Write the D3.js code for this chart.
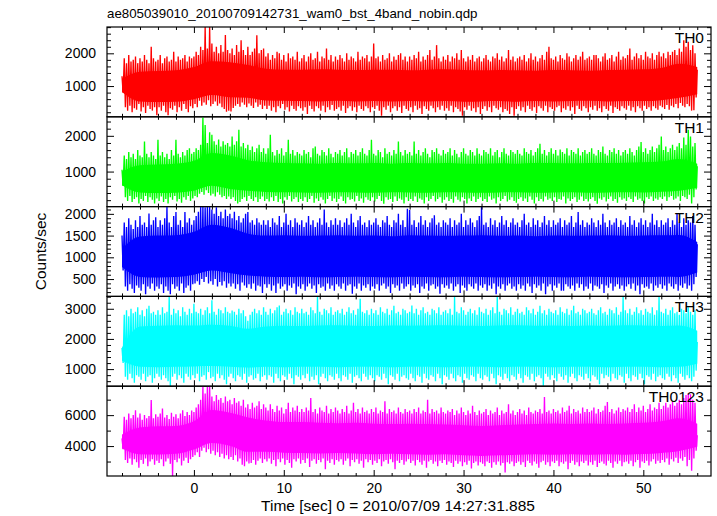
<!DOCTYPE html>
<html><head><meta charset="utf-8">
<script src="https://cdn.jsdelivr.net/npm/d3@7"></script>
<style>
body{margin:0;background:#fff}
text{font-family:"Liberation Sans",Arial,Helvetica,sans-serif;fill:#000}
</style>
</head><body>
<svg id="c" width="717" height="516"></svg>
<script>
// ---------- text ----------
const title = "ae805039010_20100709142731_wam0_bst_4band_nobin.qdp";
const xLabel = "Time [sec] 0 = 2010/07/09 14:27:31.885";
const yLabel = "Counts/sec";
const panelNames = ["TH0", "TH1", "TH2", "TH3", "TH0123"];
const panelColors = ["#ff0000", "#00ff00", "#0000ff", "#00ffff", "#ff00ff"];

// ---------- axes ----------
const xDomain = [-9.67, 57.53];
const xMajorTicks = [0, 10, 20, 30, 40, 50];
const xMinorTicks = [-8,-6,-4,-2,2,4,6,8,12,14,16,18,22,24,26,28,32,34,36,38,42,44,46,48,52,54,56];
const yDomains = [[61, 2804], [20, 2532], [101, 2167], [433, 3410], [2065, 7871]];
const yMajorTicks = [[1000, 2000], [1000, 2000], [500, 1000, 1500, 2000], [1000, 2000, 3000], [4000, 6000]];
const yMinorStep = [200, 200, 100, 200, 1000];

// ---------- sampling grid (seconds) ----------
const hiStart = -8, loStart = -7.875, sampleStep = 0.25;  // upper / lower excursions, every 0.25 s
const coreStart = -8, coreStep = 2;                        // dense core band, every 2 s

// ---------- TH0 ----------
const th0Hi = [
 1300,1850,1700,1950,1750,1800,1900,1700,1850,1750,1950,1800,1700,2200,1850,1750,
 1800,1950,1700,1850,1900,1750,1800,2050,1750,1900,1800,1850,1950,1750,1900,1850,
 1900,2050,1950,2200,2100,2800,2150,2800,2300,2050,2200,2000,2250,2050,2560,2100,
 2000,2150,1950,2250,2050,2400,2100,1950,2200,1950,2050,2150,2550,2000,2100,2150,
 1900,2000,1800,1950,1850,2050,2000,1800,1950,1750,2000,1850,1900,1800,2050,1750,
 1850,1950,1750,1900,2000,1800,1850,2050,1750,1900,1850,2150,1800,1950,1750,1900,
 1800,1950,1850,1750,2000,1800,1900,1850,1750,2050,1800,1900,1850,1950,1750,1900,
 2300,1850,1900,1750,1950,1800,1850,2000,1750,1900,1800,1950,2000,1800,1900,1750,
 1900,1800,1950,1850,2050,1750,1900,1800,1950,2100,1800,1900,2250,1850,1750,1900,
 1800,1950,1750,1900,1850,2000,1800,2100,1850,1750,1900,1800,1950,1750,1850,1900,
 1750,1850,1950,1800,1750,1900,1850,2000,1800,1900,1750,1850,2100,1800,1900,1750,
 1850,1900,1800,1950,1750,1850,2000,1800,1900,1750,1850,1950,1800,2050,2200,1850,
 1800,1900,1750,1950,1850,1800,2000,1900,1750,1850,1950,1800,1900,2050,1800,1850,
 1900,1800,1950,1950,1850,1750,1900,2000,1800,1850,1950,1750,1900,2050,1800,1900,
 1850,1950,2150,1800,1900,2000,1850,1950,1800,2050,1900,1850,2000,1800,1950,2050,
 1900,2000,1850,2050,1950,2050,2100,1950,2150,2050,2400,2200,2350,2100,2250,2000,
 1500];
const th0Lo = [
 800,350,250,400,200,320,280,450,220,350,180,400,300,250,350,110,
 350,250,400,200,110,320,280,400,200,350,250,450,300,200,380,320,
 450,350,550,400,500,430,570,380,450,530,400,470,350,300,215,250,
 220,330,400,450,370,500,430,350,470,400,330,500,370,430,300,400,
 300,400,250,350,200,380,320,450,280,350,220,400,300,250,380,320,
 250,350,150,400,300,220,380,320,250,400,200,350,280,420,250,300,
 350,250,400,180,320,380,250,350,200,400,300,250,380,320,200,350,
 300,400,250,90,350,280,400,200,320,380,250,350,180,400,300,250,
 350,200,400,280,320,150,380,300,250,400,320,200,350,280,400,250,
 320,250,400,200,350,300,220,90,350,280,400,250,320,200,350,150,
 300,380,250,350,200,400,320,280,350,200,300,250,150,350,90,300,
 380,250,350,200,400,300,250,350,180,380,320,250,400,200,350,300,
 250,350,400,200,320,280,380,250,350,150,400,300,250,380,320,200,
 350,280,400,250,320,200,380,300,250,400,180,350,300,250,380,320,
 280,400,250,350,200,380,320,250,400,300,350,250,380,320,280,400,
 350,300,420,280,400,350,450,320,480,400,350,450,380,250,260,650];
const th0CoreHi = [1220,1440,1460,1480,1580,1760,1730,1640,1530,1500,1500,1510,1500,1490,1500,1500,1480,1500,1510,1490,1480,1490,1480,1470,1490,1480,1470,1490,1500,1510,1550,1680,1580];
const th0CoreLo = [820,530,510,520,600,730,660,640,560,550,540,530,550,530,540,530,540,530,540,520,530,540,520,540,530,540,550,530,540,540,570,640,750];

// ---------- TH1 ----------
const th1Hi = [
 1050,1450,1350,1550,1400,1500,1350,1600,1450,1400,1840,1500,1400,1550,1450,1350,
 1890,1450,1550,1400,1500,1350,1600,1450,1890,1500,1400,1550,1450,1600,1650,1500,
 1550,1650,1600,1750,2510,2300,1800,2100,2030,1850,1750,1900,1700,1850,1750,1800,
 1700,1980,1750,1850,2170,1700,1800,1650,1750,1600,1700,1550,1650,1750,1550,1650,
 1500,1650,2030,1550,1450,1600,1500,1650,1450,1550,1890,1500,1600,1450,1550,1500,
 1450,1600,1500,1550,1400,1650,1700,1500,1450,1600,1550,1450,1650,1500,1400,1550,
 1500,1600,1450,1550,1650,1400,1550,1500,1600,1450,1550,1650,1500,1450,1600,1890,
 1500,1450,1600,1550,1400,1650,1500,1550,1450,1600,1500,1840,1550,1450,1600,1500,
 1550,1450,1840,1500,1600,1450,1550,1650,1500,1400,1600,1550,1650,1500,1450,1600,
 1500,1550,1650,1450,1600,1500,1400,1550,1650,1500,1450,1600,1550,1450,1650,1500,
 1450,1600,1550,1500,1650,1450,1550,1600,1400,1550,1650,1500,1450,1600,1550,1500,
 1600,1500,1450,1650,1550,1500,1600,1450,1550,1650,1780,1500,1600,1450,1550,1650,
 1500,1600,1450,1620,1550,1500,1650,1450,1600,1550,1500,1650,1450,1550,1600,1500,
 1550,1650,1500,1450,1600,1550,1700,1500,1450,1600,1550,1650,1500,1600,1450,1550,
 1600,1500,1650,1550,1450,1600,1700,1830,1550,1650,1500,1600,1700,1550,1650,1750,
 1980,1600,1700,1550,1650,1750,1600,1700,1800,1650,1950,1750,2170,1980,1700,1800,
 1150];
const th1Lo = [
 600,280,180,320,150,230,280,110,230,180,320,150,280,210,110,250,
 180,300,150,230,110,280,210,320,160,230,130,280,210,320,180,250,
 320,280,380,430,350,480,400,330,380,300,420,350,280,320,230,300,
 230,280,180,110,150,230,280,180,320,230,180,280,150,230,300,180,
 230,160,280,180,320,150,230,110,280,210,320,160,230,280,150,230,
 180,280,150,230,320,130,250,180,280,210,110,230,320,180,250,150,
 230,300,180,110,280,210,230,160,320,180,250,130,280,210,180,280,
 160,230,320,180,100,280,210,230,150,300,180,250,210,110,280,180,
 230,180,300,150,250,210,110,280,180,230,320,160,230,280,130,210,
 280,180,230,130,300,210,160,280,230,110,250,180,300,150,230,280,
 180,230,150,300,210,250,110,280,180,230,320,160,210,280,180,130,
 230,280,180,250,150,300,210,110,280,180,230,160,300,210,250,180,
 280,150,230,210,300,110,250,180,230,280,150,210,300,180,230,160,
 230,280,180,100,250,210,280,160,230,300,180,230,130,280,210,250,
 180,280,230,150,300,210,250,180,110,280,230,300,180,250,210,280,
 230,300,180,280,320,210,250,300,180,320,280,230,350,110,280,500];
const th1CoreHi = [1000,1180,1200,1220,1300,1520,1450,1320,1260,1240,1230,1220,1240,1230,1240,1220,1240,1230,1240,1220,1220,1230,1220,1240,1240,1230,1240,1240,1250,1260,1280,1350,1220];
const th1CoreLo = [620,415,400,410,465,600,510,460,430,420,415,405,420,415,405,420,415,405,420,415,405,415,420,405,415,420,405,415,420,415,435,465,550];

// ---------- TH2 ----------
const th2Hi = [
 1500,1800,1700,1900,1750,1650,1850,1700,1950,1750,1800,1700,2010,1750,1850,1920,
 1700,1850,1750,1900,2160,1800,1700,1950,2040,1750,1850,1700,2040,1800,1900,1750,
 1850,1950,2050,2170,2170,2150,2170,2170,2100,2000,2150,1950,2050,1900,2100,1950,
 2000,1900,2050,1850,1950,1800,1900,2000,2040,1800,1850,1750,1900,1800,1750,1850,
 1750,1850,1700,1900,1800,1750,1950,1700,1800,2000,1750,1850,1700,1900,1800,1750,
 1850,1700,1800,1950,1750,1850,1700,1800,1900,1750,2100,1800,1700,1850,1750,1900,
 1750,1850,1700,1800,1900,1750,2000,1800,1700,1850,1950,1750,1800,1700,1850,1750,
 1800,1900,1750,1700,1850,1800,1950,1750,1700,1850,1800,2000,1750,1850,1700,2120,
 2090,1750,1850,1700,1800,1950,1750,1850,1700,1800,1900,1970,1750,1800,1700,1850,
 1800,1750,1900,1700,1850,1750,1800,2000,1700,1850,1750,1900,1800,1700,1850,1950,
 2170,1750,1800,1700,1900,1750,1850,1700,1800,1950,1750,1850,1700,1800,1900,1750,
 1800,1700,1850,2000,1750,1800,1700,1900,1750,1850,1700,1800,1950,1750,1850,1700,
 1850,1750,1800,1900,1700,1850,1750,1800,1950,1700,1800,2040,1750,1850,1700,1800,
 1750,1900,1800,1700,1850,1750,2000,1800,1700,1850,1750,1800,1900,1700,1850,1750,
 1800,1700,1950,1750,1850,1700,1800,1900,1750,1850,1700,1800,2000,1750,1850,1700,
 1850,1750,1800,1900,1700,1850,1750,2000,1800,1700,1900,1750,1850,1800,1950,1750,
 1300];
const th2Lo = [
 700,330,230,380,280,180,350,300,230,380,150,330,280,400,230,330,
 280,380,180,330,230,150,380,280,330,230,400,180,300,350,230,380,
 400,450,370,500,430,550,400,450,370,500,330,430,350,450,300,400,
 330,400,280,380,230,420,350,300,380,280,400,230,350,330,180,380,
 300,380,230,350,180,400,280,330,380,230,350,300,400,150,330,280,
 380,230,330,400,280,350,180,380,300,330,230,400,280,350,230,380,
 330,280,400,230,350,380,160,330,280,400,230,350,300,380,230,330,
 280,380,230,350,400,280,330,180,380,300,350,230,400,280,330,380,
 230,350,300,380,180,330,280,400,230,350,380,280,330,160,380,300,
 350,280,400,230,330,380,180,350,300,230,380,330,280,400,230,350,
 300,380,230,350,280,400,150,330,280,380,230,350,400,280,330,230,
 380,280,350,230,400,330,180,380,300,350,230,400,150,330,380,230,
 350,300,400,230,230,380,330,280,350,230,400,300,380,230,330,280,
 400,230,350,330,280,380,180,350,300,400,230,330,380,280,350,230,
 330,380,280,400,230,350,150,380,300,330,280,400,230,350,300,380,
 280,350,230,400,330,280,380,230,350,300,400,280,350,230,380,550];
const th2CoreHi = [1200,1480,1500,1510,1590,1750,1680,1545,1500,1510,1495,1500,1510,1495,1500,1485,1510,1500,1495,1500,1510,1495,1500,1485,1500,1495,1500,1510,1495,1500,1505,1515,1350];
const th2CoreLo = [775,550,535,545,600,695,640,580,555,545,555,540,545,555,545,540,555,545,540,555,545,540,545,555,545,540,555,545,540,545,555,550,650];

// ---------- TH3 ----------
const th3Hi = [
 1700,2800,2950,2750,3000,2850,2900,3050,2800,2950,2750,3000,3100,2850,2900,2800,
 2950,2800,3050,2850,2900,3410,2800,3000,2850,2950,2750,3050,2900,2800,3000,2850,
 3170,2900,2850,3000,2800,2950,3050,2850,3280,2900,2800,3000,2950,2850,3050,2900,
 2850,2940,2900,2800,3000,2850,2950,2750,2600,2800,2900,3000,2850,2950,2800,3050,
 2900,2800,3000,2850,2950,3050,3110,2800,2900,3000,2850,2950,2800,3050,2900,2850,
 3000,2850,2900,2800,3050,2950,2850,3410,2900,2800,3000,2950,2850,3050,2800,2900,
 2950,2850,3000,2800,2900,3050,2850,2950,2800,3000,3330,2900,2850,2950,2800,3000,
 2850,2950,2800,3050,2900,2850,3000,2800,2950,3100,2850,2900,2800,3000,2950,2850,
 2900,3110,2850,3000,2800,2950,3050,2850,2900,2800,3000,2950,2850,3050,2800,2900,
 2950,2850,3000,2800,3390,2900,2850,3050,2950,2800,2900,3000,2850,2950,2800,3050,
 2900,2850,3000,2800,2950,3050,2850,3410,2900,2800,3000,2950,2850,3050,2800,2900,
 3000,2850,2900,2800,3050,2950,2850,3000,2800,2900,3100,2850,2950,2800,3000,2900,
 2850,2950,2800,3050,2900,2850,3000,2800,2950,3100,2850,2900,2800,3000,2950,2850,
 2900,3000,2850,2800,2950,3050,2850,2900,2800,3000,2950,2850,3050,2800,2900,3390,
 2950,2850,3000,2800,2900,3050,2850,2950,2800,3000,2900,2850,3050,2800,2950,3390,
 2900,2850,3000,2800,2950,3050,2850,2900,2800,3000,2950,2850,3050,2900,2800,2950,
 1900];
const th3Lo = [
 1200,750,650,850,700,550,800,750,650,850,600,750,800,550,700,850,
 750,650,800,700,600,440,750,850,650,800,700,550,850,750,650,800,
 700,850,600,750,800,650,900,700,750,600,850,700,800,650,500,750,
 850,700,600,800,750,650,850,550,750,800,650,700,850,600,750,800,
 650,800,750,550,850,700,600,800,750,650,850,700,500,800,750,650,
 800,700,850,600,750,650,800,500,750,850,700,600,800,750,650,850,
 700,600,800,750,650,850,550,750,800,700,600,850,750,650,800,700,
 600,800,750,650,850,700,500,800,750,650,850,600,750,800,700,650,
 850,700,600,800,750,550,850,700,650,800,750,600,850,700,500,800,
 750,650,850,700,600,800,750,550,850,700,650,800,750,600,850,700,
 650,800,750,600,850,700,500,800,750,650,850,700,600,800,750,650,
 850,700,550,800,750,650,850,600,750,800,700,450,850,750,650,800,
 700,600,850,750,650,800,550,750,850,700,600,800,750,650,850,700,
 600,800,750,650,500,850,700,800,750,600,850,700,650,800,750,550,
 850,700,600,800,750,650,850,700,500,800,750,650,850,600,750,800,
 700,650,850,750,600,800,700,550,850,750,650,800,700,600,750,950];
const th3CoreHi = [1720,2415,2440,2455,2445,2470,2435,2335,2415,2440,2430,2445,2455,2440,2430,2445,2440,2445,2455,2435,2430,2445,2455,2435,2445,2430,2445,2435,2455,2445,2430,2445,2275];
const th3CoreLo = [1275,1080,1065,1075,1090,1100,1080,1055,1075,1065,1080,1075,1065,1080,1075,1065,1080,1075,1065,1080,1075,1065,1075,1080,1065,1075,1080,1065,1075,1080,1065,1075,1175];

// ---------- TH0123 ----------
const th0123Hi = [
 4500,5900,5700,6100,5800,6000,6320,5850,6100,5700,6000,5800,5950,6970,5800,6050,
 5900,6100,6430,5850,6000,5750,6150,5900,6050,5800,6100,6320,5950,6200,6000,6300,
 6200,6500,6700,7000,7870,7400,7870,7870,7200,6900,7300,7000,7100,6800,7200,6900,
 7000,6700,7100,6800,6900,6600,7000,6500,6700,6400,6800,6500,6600,6900,6400,6700,
 6500,6300,6700,6400,6200,6600,6300,6500,6100,6400,6800,6200,6500,6300,6600,6200,
 6400,6200,6500,6300,7100,6200,6400,6100,6500,6300,6200,6600,6100,6400,6200,6500,
 6300,6100,6400,6200,6600,6100,6300,6800,6200,6400,6100,6500,6200,6300,6100,6400,
 6200,6500,6100,6300,6200,6900,6100,6400,6200,6300,6100,6500,6200,6100,6400,6200,
 6300,6100,6400,6200,6500,6100,6300,6200,7000,6100,6400,6200,6300,6100,6500,6200,
 6100,6300,6200,6400,6000,6300,6100,6500,6200,6000,6300,6100,6600,6200,6000,6300,
 6100,6200,6400,6000,6300,6100,6200,6500,6000,6300,6100,6200,6700,6100,6300,6000,
 6200,6400,6100,6300,6000,6500,6200,6100,6300,6200,6400,6100,7180,6200,6300,6100,
 6400,6200,6300,6100,6500,6200,6300,6600,6100,6400,6200,6300,6100,6500,6200,6400,
 6200,6300,6500,6100,6400,6200,6300,6600,6850,6200,6400,6100,6300,6500,6200,6400,
 6300,6500,6200,6400,6700,6200,6500,6300,6600,6200,6400,6700,6300,6500,6400,6800,
 6400,6600,6800,6500,6700,6900,6600,6800,7000,6700,7100,7300,7400,7350,7000,6800,
 4700];
const th0123Lo = [
 3800,3100,2900,3200,2800,3150,2950,2600,3100,2850,3200,2700,3000,3150,2800,3050,
 2900,3150,2700,3000,3200,2850,2050,3100,2950,3200,2750,3050,3250,2900,3150,3300,
 3400,3600,3300,3700,3900,3600,3800,3500,3700,3400,3600,3300,3500,3200,3400,3150,
 3300,3100,3400,3000,3200,2800,2700,3000,2880,2900,3100,2800,3050,3200,2900,3150,
 3000,3200,2850,3100,2700,3150,2950,3200,2800,3100,2900,2600,3150,3000,3200,2850,
 3100,2900,3200,2650,3050,3150,2850,3100,2950,3200,2500,3050,2900,3150,2800,3100,
 3000,3150,2800,3050,3200,2700,3100,2950,3150,2850,3050,2600,3150,2950,3100,2800,
 3050,2900,3150,2700,3000,3100,2850,3150,2950,2500,3050,2900,3100,2800,3000,3150,
 2900,3050,2750,3100,2950,2800,3050,2600,3000,3100,2850,3000,2700,3050,2900,3100,
 2800,3000,2900,2650,3050,2850,3000,2700,2950,2800,3050,2550,2900,3000,2750,2950,
 2850,2700,3000,2900,2600,2950,2800,3000,2750,2900,2300,2950,2850,3000,2700,2900,
 3000,2800,2950,2650,3050,2900,2750,3000,2850,2600,2950,3050,2800,2950,2700,3000,
 2900,3050,2700,2950,2850,3000,2500,2900,3050,2800,2950,2700,3000,2900,3050,2750,
 2950,2800,3050,2650,2900,3000,2850,2750,3050,2900,2600,3000,2850,3050,2700,2950,
 3000,2850,3050,2700,2950,3100,2600,3000,2900,3050,2750,3000,3150,2850,3050,2900,
 3100,2950,3200,2800,3150,3000,3250,2900,3200,3050,3300,2700,3100,2400,3200,3700];
const th0123CoreHi = [4750,5200,5275,5300,5600,6325,6150,5850,5650,5550,5550,5500,5475,5500,5450,5425,5450,5425,5390,5350,5300,5350,5390,5425,5460,5425,5460,5425,5460,5500,5600,5800,5450];
const th0123CoreLo = [3850,3475,3460,3500,3775,4200,4025,3625,3625,3575,3550,3515,3550,3515,3475,3500,3475,3435,3470,3400,3365,3400,3435,3475,3440,3475,3440,3475,3445,3480,3550,3675,3950];

const seriesHi = [th0Hi, th1Hi, th2Hi, th3Hi, th0123Hi];
const seriesLo = [th0Lo, th1Lo, th2Lo, th3Lo, th0123Lo];
const seriesCoreHi = [th0CoreHi, th1CoreHi, th2CoreHi, th3CoreHi, th0123CoreHi];
const seriesCoreLo = [th0CoreLo, th1CoreLo, th2CoreLo, th3CoreLo, th0123CoreLo];

// ---------- drawing ----------
const plotLeft = 107, plotRight = 711, plotTop = 27, plotBottom = 476;
const nP = panelNames.length, ph = (plotBottom - plotTop) / nP;
const svg = d3.select("#c");
const defs = svg.append("defs");
const x = d3.scaleLinear().domain(xDomain).range([plotLeft, plotRight]);
const FONT = '"Liberation Sans",Arial,Helvetica,sans-serif';

function styleAxis(g, fs) {
  g.attr("font-family", FONT).attr("font-size", fs);
  g.select(".domain").remove();
  g.selectAll(".tick line").attr("stroke", "#000").attr("stroke-width", 1);
  g.selectAll(".tick text").attr("fill", "#000");
}

panelNames.forEach((name, k) => {
  const y0 = plotTop + k * ph, y1 = y0 + ph;
  const y = d3.scaleLinear().domain(yDomains[k]).range([y1, y0]);
  const color = panelColors[k];

  defs.append("clipPath").attr("id", "clip" + k)
    .append("rect").attr("x", plotLeft).attr("y", y0).attr("width", plotRight - plotLeft).attr("height", ph);
  const g = svg.append("g").attr("clip-path", `url(#clip${k})`);

  const core = seriesCoreHi[k].map((v, i) => ({ t: coreStart + i * coreStep, hi: v, lo: seriesCoreLo[k][i] }));
  g.append("path").datum(core)
    .attr("d", d3.area().x(d => x(d.t)).y0(d => y(d.lo)).y1(d => y(d.hi)).curve(d3.curveMonotoneX))
    .attr("fill", color);

  const pts = [];
  seriesHi[k].forEach((v, i) => {
    pts.push([hiStart + i * sampleStep, v]);
    if (i < seriesLo[k].length) pts.push([loStart + i * sampleStep, seriesLo[k][i]]);
  });
  g.append("path").datum(pts)
    .attr("d", d3.line().x(d => x(d[0])).y(d => y(d[1])))
    .attr("fill", "none").attr("stroke", color).attr("stroke-width", 1.35)
    .attr("stroke-linejoin", "bevel");

  const dom = yDomains[k], st = yMinorStep[k];
  const minor = d3.range(Math.ceil(dom[0] / st) * st, dom[1], st).filter(v => !yMajorTicks[k].includes(v));
  svg.append("g").attr("transform", `translate(${plotLeft},0)`)
    .call(d3.axisLeft(y).tickValues(minor).tickSize(-4).tickFormat(""))
    .call(a => styleAxis(a, 14));
  svg.append("g").attr("transform", `translate(${plotRight},0)`)
    .call(d3.axisRight(y).tickValues(minor).tickSize(-4).tickFormat(""))
    .call(a => styleAxis(a, 14));
  svg.append("g").attr("transform", `translate(${plotLeft},0)`)
    .call(d3.axisLeft(y).tickValues(yMajorTicks[k]).tickSize(-7).tickPadding(11).tickFormat(d3.format("d")))
    .call(a => styleAxis(a, 14));
  svg.append("g").attr("transform", `translate(${plotRight},0)`)
    .call(d3.axisRight(y).tickValues(yMajorTicks[k]).tickSize(-7).tickFormat(""))
    .call(a => styleAxis(a, 14));

  svg.append("g").attr("transform", `translate(0,${y0})`)
    .call(d3.axisTop(x).tickValues(xMinorTicks).tickSize(-3).tickFormat(""))
    .call(a => styleAxis(a, 14));
  svg.append("g").attr("transform", `translate(0,${y0})`)
    .call(d3.axisTop(x).tickValues(xMajorTicks).tickSize(-6).tickFormat(""))
    .call(a => styleAxis(a, 14));
  svg.append("g").attr("transform", `translate(0,${y1})`)
    .call(d3.axisBottom(x).tickValues(xMinorTicks).tickSize(-3).tickFormat(""))
    .call(a => styleAxis(a, 14));
  svg.append("g").attr("transform", `translate(0,${y1})`)
    .call(d3.axisBottom(x).tickValues(xMajorTicks).tickSize(-6).tickPadding(7)
      .tickFormat(k === nP - 1 ? d3.format("d") : ""))
    .call(a => styleAxis(a, 14));

  svg.append("rect").attr("x", plotLeft).attr("y", y0).attr("width", plotRight - plotLeft).attr("height", ph)
    .attr("fill", "none").attr("stroke", "#000").attr("stroke-width", 1.2);

  svg.append("text").attr("x", plotRight - 7).attr("y", y0 + 16)
    .attr("text-anchor", "end").attr("font-size", 15.5).text(name);
});

svg.append("text").attr("x", plotLeft).attr("y", 18).attr("font-size", 13.3).text(title);
svg.append("text").attr("x", 398).attr("y", 511).attr("text-anchor", "middle")
  .attr("font-size", 15.5).text(xLabel);
svg.append("text").attr("transform", `translate(46,${(plotTop + plotBottom) / 2}) rotate(-90)`)
  .attr("text-anchor", "middle").attr("font-size", 15.5).text(yLabel);
</script>
</body></html>
